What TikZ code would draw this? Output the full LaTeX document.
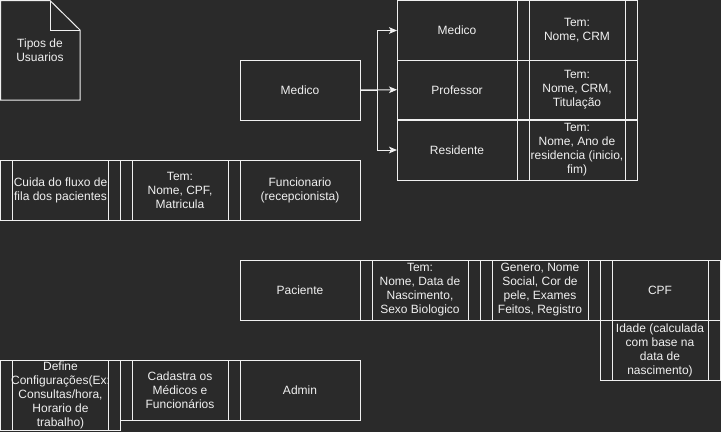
\documentclass[tikz,border=0pt]{standalone}
\usepackage{fontspec}
\setmainfont{Liberation Sans}
\usetikzlibrary{arrows.meta}
\definecolor{bg}{HTML}{2A2A2A}
\definecolor{fg}{HTML}{F0F0F0}
\tikzset{
  box/.style={draw=fg, line width=0.75pt, fill=bg, text=fg, minimum width=90pt, minimum height=45pt,
    inner sep=1pt, outer sep=0pt, align=center, font=\fontsize{9}{10.5}\selectfont},
  proc/.style={box, path picture={
    \draw[fg, line width=0.75pt] ([xshift=9pt]path picture bounding box.north west) -- ([xshift=9pt]path picture bounding box.south west);
    \draw[fg, line width=0.75pt] ([xshift=-9pt]path picture bounding box.north east) -- ([xshift=-9pt]path picture bounding box.south east);}},
  arr/.style={draw=fg, line width=0.75pt, -{Stealth[length=6pt, width=5pt, inset=1.5pt]}},
  lbl/.style={text=fg, align=center, font=\fontsize{9}{10.5}\selectfont, inner sep=0pt}
}
\begin{document}
\begin{tikzpicture}[x=0.75pt, y=-0.75pt]
\fill[bg] (0,0) rectangle (721,432);
\useasboundingbox (0,0) rectangle (721,432);
% document shape
\draw[fg, line width=0.75pt] (0.5,0.5) -- (50,0.5) -- (80,30) -- (80,100) -- (0.5,100) -- cycle;
\draw[fg, line width=0.75pt] (50,0.5) -- (50,30) -- (80,30);
\node[lbl] (doc) at (40,50) {Tipos de\\Usuarios};
% Medico left
\node[box, anchor=north west] (medL) at (240,60) {Medico};
% right column
\node[box, anchor=north west] (rMed) at (397,0.5) {Medico};
\node[proc, anchor=north west] (pMed) at (517,0.5) {Tem:\\Nome, CRM};
\node[box, anchor=north west, minimum height=44.6pt] (rProf) at (397,60) {Professor};
\node[proc, anchor=north west, minimum height=44.6pt] (pProf) at (517,60) {Tem:\\Nome, CRM,\\Titulação};
\node[box, anchor=north west] (rRes) at (397,120) {Residente};
\node[proc, anchor=north west] (pRes) at (517,120) {Tem:\\Nome, Ano de\\residencia (inicio,\\fim)};
\draw[arr] (medL.east) -- ++(17,0) |- (rMed.west);
\draw[arr] (medL.east) -- (rProf.west);
\draw[arr] (medL.east) -- ++(17,0) |- (rRes.west);
% Funcionario row
\node[proc, anchor=north west] (pCuida) at (0.5,160) {Cuida do fluxo de\\fila dos pacientes};
\node[proc, anchor=north west] (pFunc) at (120,160) {Tem:\\Nome, CPF,\\Matricula};
\node[box, anchor=north west] (rFunc) at (240,160) {Funcionario\\(recepcionista)};
% Paciente row
\node[box, anchor=north west] (rPac) at (240,260) {Paciente};
\node[proc, anchor=north west] (pPac1) at (360,260) {Tem:\\Nome, Data de\\Nascimento,\\Sexo Biologico};
\node[proc, anchor=north west] (pPac2) at (480,260) {Genero, Nome\\Social, Cor de\\pele, Exames\\Feitos, Registro};
\node[proc, anchor=north west] (pCPF) at (600,260) {CPF};
\node[proc, anchor=north west] (pIdade) at (600,320) {Idade (calculada\\com base na\\data de\\nascimento)};
% Admin row
\node[proc, anchor=north west, minimum height=52.5pt] (pDef) at (0.5,360) {Define\\Configurações(Ex:\\Consultas/hora,\\Horario de\\trabalho)};
\node[proc, anchor=north west] (pCad) at (120,360) {Cadastra os\\Médicos e\\Funcionários};
\node[box, anchor=north west] (rAdm) at (240,360) {Admin};
\end{tikzpicture}
\end{document}
